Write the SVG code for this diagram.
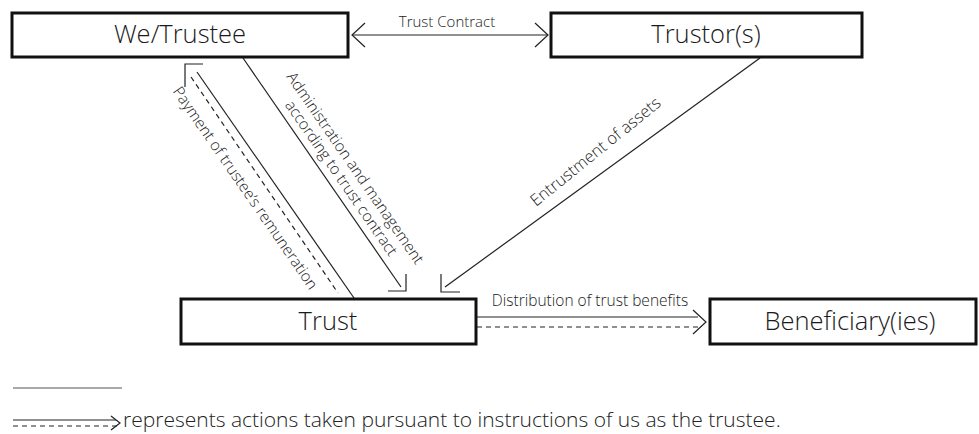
<svg xmlns="http://www.w3.org/2000/svg" width="979" height="434" viewBox="0 0 979 434">
  <style>
    .box { fill: #fff; stroke: #111; stroke-width: 3; }
    .name { font-family: "Open Sans", "Liberation Sans", sans-serif; font-weight: 300; font-size: 25.5px; fill: #1a1a1a; text-anchor: middle; }
    .lbl { font-family: "Open Sans", "Liberation Sans", sans-serif; font-weight: 300; font-size: 15.5px; fill: #222; text-anchor: middle; }
    .note { font-family: "Open Sans", "Liberation Sans", sans-serif; font-weight: 300; font-size: 21px; fill: #222; }
    .ln { fill: none; stroke: #222; stroke-width: 1.2; }
    .dash { fill: none; stroke: #222; stroke-width: 1.2; stroke-dasharray: 5 4; }
  </style>
  <rect width="979" height="434" fill="#fff"/>

  <g id="connectors">
    <!-- Trust Contract (two-way) -->
    <g id="c-contract">
      <line class="ln" x1="352" y1="35" x2="548" y2="35"/>
      <polyline class="ln" points="365,23 352,35 365,47"/>
      <polyline class="ln" points="535,23 548,35 535,47"/>
      <text class="lbl" x="447" y="27" style="font-size:15px">Trust Contract</text>
    </g>
    <!-- Administration: trustee to trust -->
    <g id="c-admin">
      <line class="ln" x1="243" y1="58" x2="401" y2="287"/>
      <polyline class="ln" points="388,291 406,291 406,274"/>
      <text class="lbl" transform="translate(351,171) rotate(55.4)">Administration and management</text>
      <text class="lbl" transform="translate(337,181) rotate(55.4)">according to trust contract</text>
    </g>
    <!-- Remuneration: trust to trustee -->
    <g id="c-pay">
      <line class="ln" x1="354" y1="298" x2="197" y2="72"/>
      <polyline class="ln" points="203,64 185,64 185,87"/>
      <line class="dash" x1="191" y1="77" x2="338" y2="293"/>
      <text class="lbl" transform="translate(241,191) rotate(55.4)">Payment of trustee’s remuneration</text>
    </g>
    <!-- Entrustment: trustor to trust -->
    <g id="c-entrust">
      <line class="ln" x1="760" y1="58" x2="445" y2="287"/>
      <polyline class="ln" points="441,274 441,292 460,292"/>
      <text class="lbl" transform="translate(599,156) rotate(-39)" style="font-size:16.5px">Entrustment of assets</text>
    </g>
    <!-- Distribution: trust to beneficiaries -->
    <g id="c-dist">
      <line class="ln" x1="477" y1="317" x2="698" y2="317"/>
      <line class="dash" x1="477" y1="327" x2="700" y2="327"/>
      <polyline class="ln" points="693,310 706,322 693,334"/>
      <text class="lbl" x="590" y="306">Distribution of trust benefits</text>
    </g>
  </g>

  <g id="trustee">
    <rect class="box" x="12" y="13" width="336" height="44"/>
    <text class="name" x="180" y="43">We/Trustee</text>
  </g>
  <g id="trustor">
    <rect class="box" x="551" y="13" width="311" height="44"/>
    <text class="name" x="706" y="43">Trustor(s)</text>
  </g>
  <g id="trust">
    <rect class="box" x="181" y="299" width="295" height="45"/>
    <text class="name" x="328" y="330">Trust</text>
  </g>
  <g id="beneficiary">
    <rect class="box" x="710" y="299" width="266" height="45"/>
    <text class="name" x="850" y="330">Beneficiary(ies)</text>
  </g>

  <!-- footnote -->
  <g id="legend">
    <line x1="13" y1="388" x2="122" y2="388" stroke="#555" stroke-width="1"/>
    <line class="ln" x1="13" y1="420" x2="116" y2="420"/>
    <line class="dash" x1="13" y1="426" x2="118" y2="426"/>
    <polyline class="ln" points="111,416 120,423 111,430"/>
    <text class="note" x="123" y="427">represents actions taken pursuant to instructions of us as the trustee.</text>
  </g>
</svg>
